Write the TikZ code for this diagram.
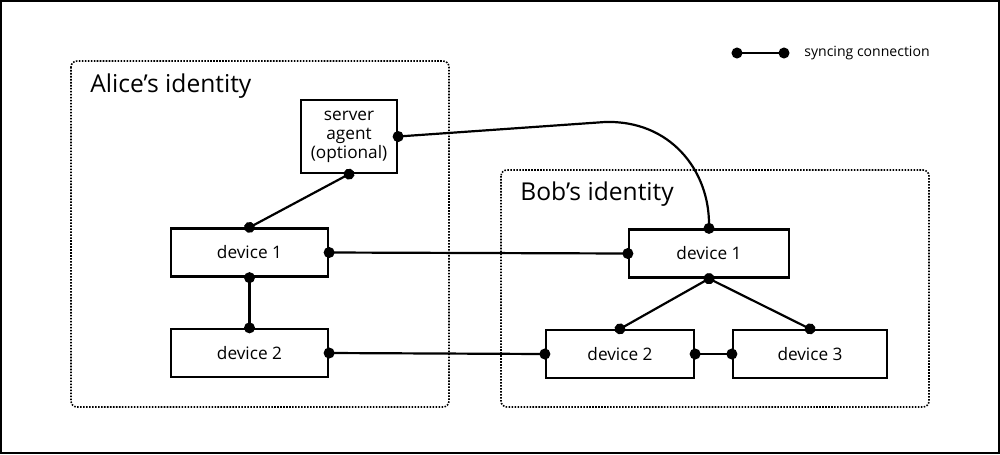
\documentclass[tikz,border=0pt]{standalone}
\usepackage{fontspec}
\setmainfont{Open Sans}
\usetikzlibrary{arrows.meta}

\begin{document}
\begin{tikzpicture}[x=0.02cm,y=-0.02cm,
    device/.style={draw, line width=1.3pt, minimum height=0.96cm, inner sep=0pt,
      font=\fontsize{9.8}{10.8}\selectfont},
    identity/.style={draw, line width=0.9pt, dash pattern=on 0.9pt off 0.8pt,
      rounded corners=0.12cm},
    title/.style={anchor=base west, inner sep=0pt, font=\fontsize{14}{16}\selectfont},
    sync/.style={line width=1.25pt, {Circle[length=6.2pt]}-{Circle[length=6.2pt]},
      shorten <=-3.1pt, shorten >=-3.1pt}]

        \useasboundingbox (0,0) rectangle (1000,454);
        \draw[line width=1.1pt] (1,1) rectangle (999,453);

        % identities
        \draw[identity] (71,61) rectangle (449,407);
        \draw[identity] (501,170) rectangle (929,407);
        \node[title] (alice) at (90,92) {Alice’s identity};
        \node[title] (bob) at (520,200) {Bob’s identity};

        % devices
        \node[device, minimum width=1.92cm, minimum height=1.46cm, align=center]
          (agent) at (349,136.5) {server\\agent\\(optional)};
        \node[device, minimum width=3.14cm] (a1) at (249.5,252.5) {device 1};
        \node[device, minimum width=3.14cm] (a2) at (249.5,353) {device 2};
        \node[device, minimum width=3.2cm]  (b1) at (709,253.5) {device 1};
        \node[device, minimum width=2.96cm] (b2) at (620,354) {device 2};
        \node[device, minimum width=3.08cm] (b3) at (810,354) {device 3};

        % syncing connections
        \coordinate (bend) at (605,122);
        \draw[sync] (agent.south) -- (a1.north);
        \draw[sync] (agent.east) -- (bend)
          .. controls (670,120) and (709,170) .. (b1.north);
        \draw[sync] (a1.east) -- (b1.west);
        \draw[sync] (a1.south) -- (a2.north);
        \draw[sync] (a2.east) -- (b2.west);
        \draw[sync] (b1.south) -- (b2.north);
        \draw[sync] (b1.south) -- (b3.north);
        \draw[sync] (b2.east) -- (b3.west);

        % legend
        \coordinate (leg1) at (737,53);
        \coordinate (leg2) at (784,53);
        \draw[sync] (leg1) -- (leg2);
        \node[anchor=west, inner sep=0pt, font=\fontsize{8}{9}\selectfont]
          (legtext) at (804,53.5) {syncing connection};

\end{tikzpicture}
\end{document}
